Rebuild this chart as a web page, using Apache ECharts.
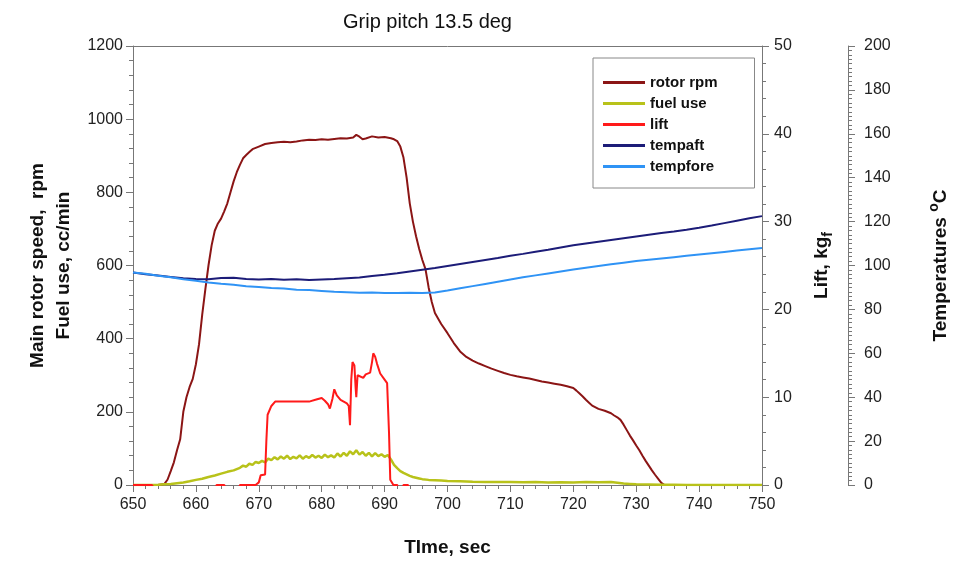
<!DOCTYPE html>
<html>
<head>
<meta charset="utf-8">
<script src="https://cdn.jsdelivr.net/npm/echarts@6/dist/echarts.min.js"></script>
<style>
  html, body { margin: 0; padding: 0; background: #fff; }
  #chart { width: 954px; height: 567px; }
</style>
</head>
<body>
<div id="chart"></div>
<script>
// rotor rpm (left axis)
const rotorTime = [650, 654, 655, 655.5, 656, 656.5, 657, 657.5, 658, 658.5, 659, 659.5, 660, 660.5, 661, 661.5, 662, 662.5, 663, 663.5, 664, 664.5, 665, 665.5, 666, 666.5, 667, 667.5, 668, 668.5, 669, 670, 671, 672, 673, 674, 675, 676, 677, 678, 679, 680, 681, 682, 683, 684, 685, 685.5, 686, 686.5, 687, 688, 689, 690, 691, 691.5, 692, 692.5, 693, 693.5, 694, 694.5, 695, 695.5, 696, 696.5, 697, 697.5, 698, 699, 700, 701, 702, 703, 704, 705, 706, 707, 708, 709, 710, 711, 712, 713, 714, 715, 716, 717, 718, 719, 720, 720.5, 721, 721.5, 722, 722.5, 723, 724, 725, 726, 726.5, 727, 727.5, 728, 728.5, 729, 729.5, 730, 730.5, 731, 731.5, 732, 732.5, 733, 733.5, 734, 734.5];
const rotorRpm = [0, 0, 3, 15, 38, 62, 95, 125, 200, 240, 268, 290, 330, 385, 465, 535, 600, 655, 695, 715, 728, 748, 770, 800, 830, 855, 875, 893, 902, 910, 918, 925, 932, 935, 937, 938, 937, 939, 942, 944, 943, 945, 944, 946, 948, 947, 950, 957, 952, 945, 947, 953, 950, 951, 948, 945, 940, 925, 895, 840, 770, 720, 680, 645, 615, 590, 540, 500, 470, 440, 415, 388, 365, 350, 340, 332, 325, 318, 312, 306, 301, 297, 294, 291, 287, 283, 280, 277, 274, 270, 265, 258, 250, 242, 233, 225, 217, 208, 203, 196, 190, 185, 178, 165, 150, 135, 122, 108, 95, 80, 66, 53, 40, 28, 17, 6, 0];

// fuel use (left axis)
const fuelTime = [650, 653, 654, 655, 656, 657, 658, 659, 660, 661, 662, 663, 664, 665, 666, 667, 667.5, 668, 668.5, 669, 669.5, 670, 670.5, 671, 671.5, 672, 672.5, 673, 673.5, 674, 674.5, 675, 675.5, 676, 676.5, 677, 677.5, 678, 678.5, 679, 679.5, 680, 680.5, 681, 681.5, 682, 682.5, 683, 683.5, 684, 684.5, 685, 685.5, 686, 686.5, 687, 687.5, 688, 688.5, 689, 689.5, 690, 690.5, 691, 691.5, 692, 692.5, 693, 693.5, 694, 694.5, 695, 695.5, 696, 697, 698, 699, 700, 702, 704, 706, 708, 710, 712, 714, 716, 718, 720, 722, 724, 726, 727, 728, 729, 730, 732, 734, 736, 738, 750];
const fuelUse = [0, 0, 0.5, 2, 3, 5, 7, 10, 14, 17, 22, 26, 31, 36, 40, 47, 53, 50, 58, 55, 63, 60, 66, 62, 72, 68, 76, 70, 78, 72, 80, 71, 77, 73, 81, 72, 79, 74, 82, 75, 80, 74, 83, 76, 81, 75, 86, 78, 88, 80, 92, 84, 95, 83, 90, 80, 88, 78, 87, 79, 84, 77, 82, 70, 55, 46, 38, 33, 29, 25, 22, 20, 18, 16, 14, 13, 12, 11, 10, 9, 8.5, 8, 8.5, 7.5, 8, 7, 7.5, 7, 8, 7.5, 8, 6, 4, 3, 2, 1.5, 1, 0.5, 0, 0];

// lift (lift axis, kgf)
const liftTime = [650, 653, 653.5, 663, 663.3, 664.5, 664.8, 666.8, 667, 669.5, 670, 670.3, 671, 671.2, 671.4, 672, 672.6, 675, 678, 679, 680, 680.5, 681, 681.3, 681.7, 682, 682.4, 683, 684, 684.3, 684.5, 684.7, 684.9, 685.2, 685.4, 685.5, 685.7, 686, 686.6, 687, 687.7, 688, 688.2, 688.5, 688.8, 689.3, 690, 690.4, 690.7, 690.9, 691.4, 692, 692.3, 692.8, 693, 693.7, 694, 750];
const liftKgf = [0, 0, -0.5, -0.5, 0, 0, -0.5, -0.5, 0, 0, 0.3, 1.1, 1.2, 5, 8, 9, 9.5, 9.5, 9.5, 9.7, 9.9, 9.6, 9.2, 8.7, 9.8, 10.9, 10.2, 9.7, 9.3, 9.0, 6.8, 12, 14, 13.6, 11, 10, 12.5, 12.7, 12.2, 12.6, 12.8, 14, 15, 14.6, 13.8, 12.7, 12, 11.6, 6, 0.6, 0, 0, -0.5, -0.5, 0, 0, -0.5, -0.5];

// temperatures (temperature axis, deg C)
const tempTime = [650, 652, 654, 656, 658, 660, 662, 664, 666, 668, 670, 672, 674, 676, 678, 680, 682, 684, 686, 688, 690, 692, 694, 696, 698, 700, 702, 704, 706, 708, 710, 712, 714, 716, 718, 720, 722, 724, 726, 728, 730, 732, 734, 736, 738, 740, 742, 744, 746, 748, 750];
const tempAft = [96.8, 96, 95.4, 94.8, 94.2, 93.8, 93.7, 94.3, 94.4, 93.8, 93.6, 93.8, 93.5, 93.7, 93.4, 93.6, 93.8, 94.2, 94.5, 95.2, 95.8, 96.5, 97.3, 98.1, 98.9, 99.8, 100.7, 101.6, 102.5, 103.4, 104.4, 105.3, 106.3, 107.2, 108.2, 109.2, 110, 110.8, 111.6, 112.4, 113.2, 114, 114.8, 115.5, 116.3, 117.2, 118.2, 119.3, 120.4, 121.5, 122.5];
const tempFore = [96.8, 96.2, 95.3, 94.6, 93.7, 93, 92.3, 91.7, 91.2, 90.6, 90.2, 89.8, 89.5, 89, 88.8, 88.4, 88, 87.8, 87.6, 87.7, 87.5, 87.5, 87.6, 87.5, 87.7, 88.6, 89.6, 90.6, 91.6, 92.6, 93.6, 94.6, 95.5, 96.4, 97.3, 98.2, 99, 99.8, 100.6, 101.3, 102, 102.6, 103.2, 103.8, 104.4, 105, 105.6, 106.2, 106.8, 107.4, 108];

const zip = (xs, ys) => xs.map((x, i) => [x, ys[i]]);

const FONT = '"Liberation Sans", Arial, sans-serif';
const AXIS_COLOR = '#777';
const LABEL = { color: '#222', fontSize: 16, fontFamily: FONT, formatter: (v) => String(v) };

function valueAxis(extra) {
  return Object.assign({
    type: 'value',
    axisLine: { show: true, lineStyle: { color: AXIS_COLOR, width: 1 } },
    axisTick: { show: true, inside: false, length: 7, lineStyle: { color: AXIS_COLOR } },
    minorTick: { show: true, splitNumber: 5, length: 4, lineStyle: { color: AXIS_COLOR } },
    splitLine: { show: false },
    axisLabel: Object.assign({}, LABEL, { margin: 10 }),
    nameLocation: 'middle',
    nameTextStyle: { color: '#111', fontSize: 19, fontWeight: 'bold', fontFamily: FONT }
  }, extra);
}

const chart = echarts.init(document.getElementById('chart'));
const option = {
  backgroundColor: '#fff',
  animation: false,
  title: {
    text: 'Grip pitch 13.5 deg',
    left: 338,
    top: 7,
    textStyle: { color: '#111', fontSize: 20, fontWeight: 'normal', fontFamily: FONT }
  },
  legend: {
    orient: 'vertical',
    left: 593,
    top: 58,
    padding: [17, 37, 14, 10],
    itemGap: 6,
    itemWidth: 42,
    itemHeight: 3,
    icon: 'rect',
    borderColor: '#888',
    borderWidth: 1,
    textStyle: { color: '#111', fontSize: 15, fontWeight: 'bold', fontFamily: FONT },
    data: ['rotor rpm', 'fuel use', 'lift', 'tempaft', 'tempfore']
  },
  grid: { left: 133, right: 192, top: 46, bottom: 82, outerBoundsMode: 'none' },
  xAxis: [
    {
      type: 'value',
      min: 650,
      max: 750,
      interval: 10,
      axisLine: { show: true, onZero: false, lineStyle: { color: AXIS_COLOR } },
      axisTick: { show: true, inside: false, length: 7, lineStyle: { color: AXIS_COLOR } },
      minorTick: { show: true, splitNumber: 5, length: 4, lineStyle: { color: AXIS_COLOR } },
      splitLine: { show: false },
      axisLabel: Object.assign({}, LABEL, { margin: 12 }),
      name: 'TIme, sec',
      nameLocation: 'middle',
      nameGap: 53,
      nameTextStyle: { color: '#111', fontSize: 19, fontWeight: 'bold', fontFamily: FONT }
    },
    {
      type: 'value',
      position: 'top',
      min: 650,
      max: 750,
      axisLine: { show: true, onZero: false, lineStyle: { color: AXIS_COLOR } },
      axisTick: { show: false },
      axisLabel: { show: false },
      splitLine: { show: false }
    }
  ],
  yAxis: [
    valueAxis({
      position: 'left',
      min: 0,
      max: 1200,
      interval: 200,
      name: 'Main rotor speed,  rpm\nFuel use, cc/min',
      nameRotate: 90,
      nameGap: 54,
      nameTextStyle: { color: '#111', fontSize: 19, fontWeight: 'bold', fontFamily: FONT, lineHeight: 26, align: 'center' }
    }),
    valueAxis({
      position: 'right',
      min: 0,
      max: 50,
      interval: 10,
      axisLabel: Object.assign({}, LABEL, { margin: 12 }),
      name: 'Lift, kg{sub|f}',
      nameRotate: 90,
      nameGap: 47,
      nameTextStyle: {
        color: '#111', fontSize: 19, fontWeight: 'bold', fontFamily: FONT, lineHeight: 26,
        rich: { sub: { fontSize: 14, fontWeight: 'bold', color: '#111', fontFamily: FONT, verticalAlign: 'bottom', lineHeight: 20 } }
      }
    }),
    valueAxis({
      position: 'right',
      offset: 86,
      min: 0,
      max: 200,
      interval: 20,
      minorTick: { show: true, splitNumber: 10, length: 4, lineStyle: { color: AXIS_COLOR } },
      axisLabel: Object.assign({}, LABEL, { margin: 16 }),
      name: 'Temperatures {sup|o}C',
      nameRotate: 90,
      nameGap: 79,
      nameTextStyle: {
        color: '#111', fontSize: 19, fontWeight: 'bold', fontFamily: FONT, lineHeight: 28,
        rich: { sup: { fontSize: 14, fontWeight: 'bold', color: '#111', fontFamily: FONT, verticalAlign: 'top', lineHeight: 16 } }
      }
    })
  ],
  series: [
    {
      name: 'rotor rpm', type: 'line', yAxisIndex: 0, showSymbol: false,
      color: '#8b1515', lineStyle: { width: 2 },
      data: zip(rotorTime, rotorRpm)
    },
    {
      name: 'fuel use', type: 'line', yAxisIndex: 0, showSymbol: false,
      color: '#b8c21a', lineStyle: { width: 2.5 },
      data: zip(fuelTime, fuelUse)
    },
    {
      name: 'lift', type: 'line', yAxisIndex: 1, showSymbol: false,
      color: '#ff1a1a', lineStyle: { width: 2 },
      data: zip(liftTime, liftKgf)
    },
    {
      name: 'tempaft', type: 'line', yAxisIndex: 2, showSymbol: false,
      color: '#1c1c78', lineStyle: { width: 2 },
      data: zip(tempTime, tempAft)
    },
    {
      name: 'tempfore', type: 'line', yAxisIndex: 2, showSymbol: false,
      color: '#2f93f5', lineStyle: { width: 2 },
      data: zip(tempTime, tempFore)
    }
  ]
};
chart.setOption(option);
</script>
</body>
</html>
